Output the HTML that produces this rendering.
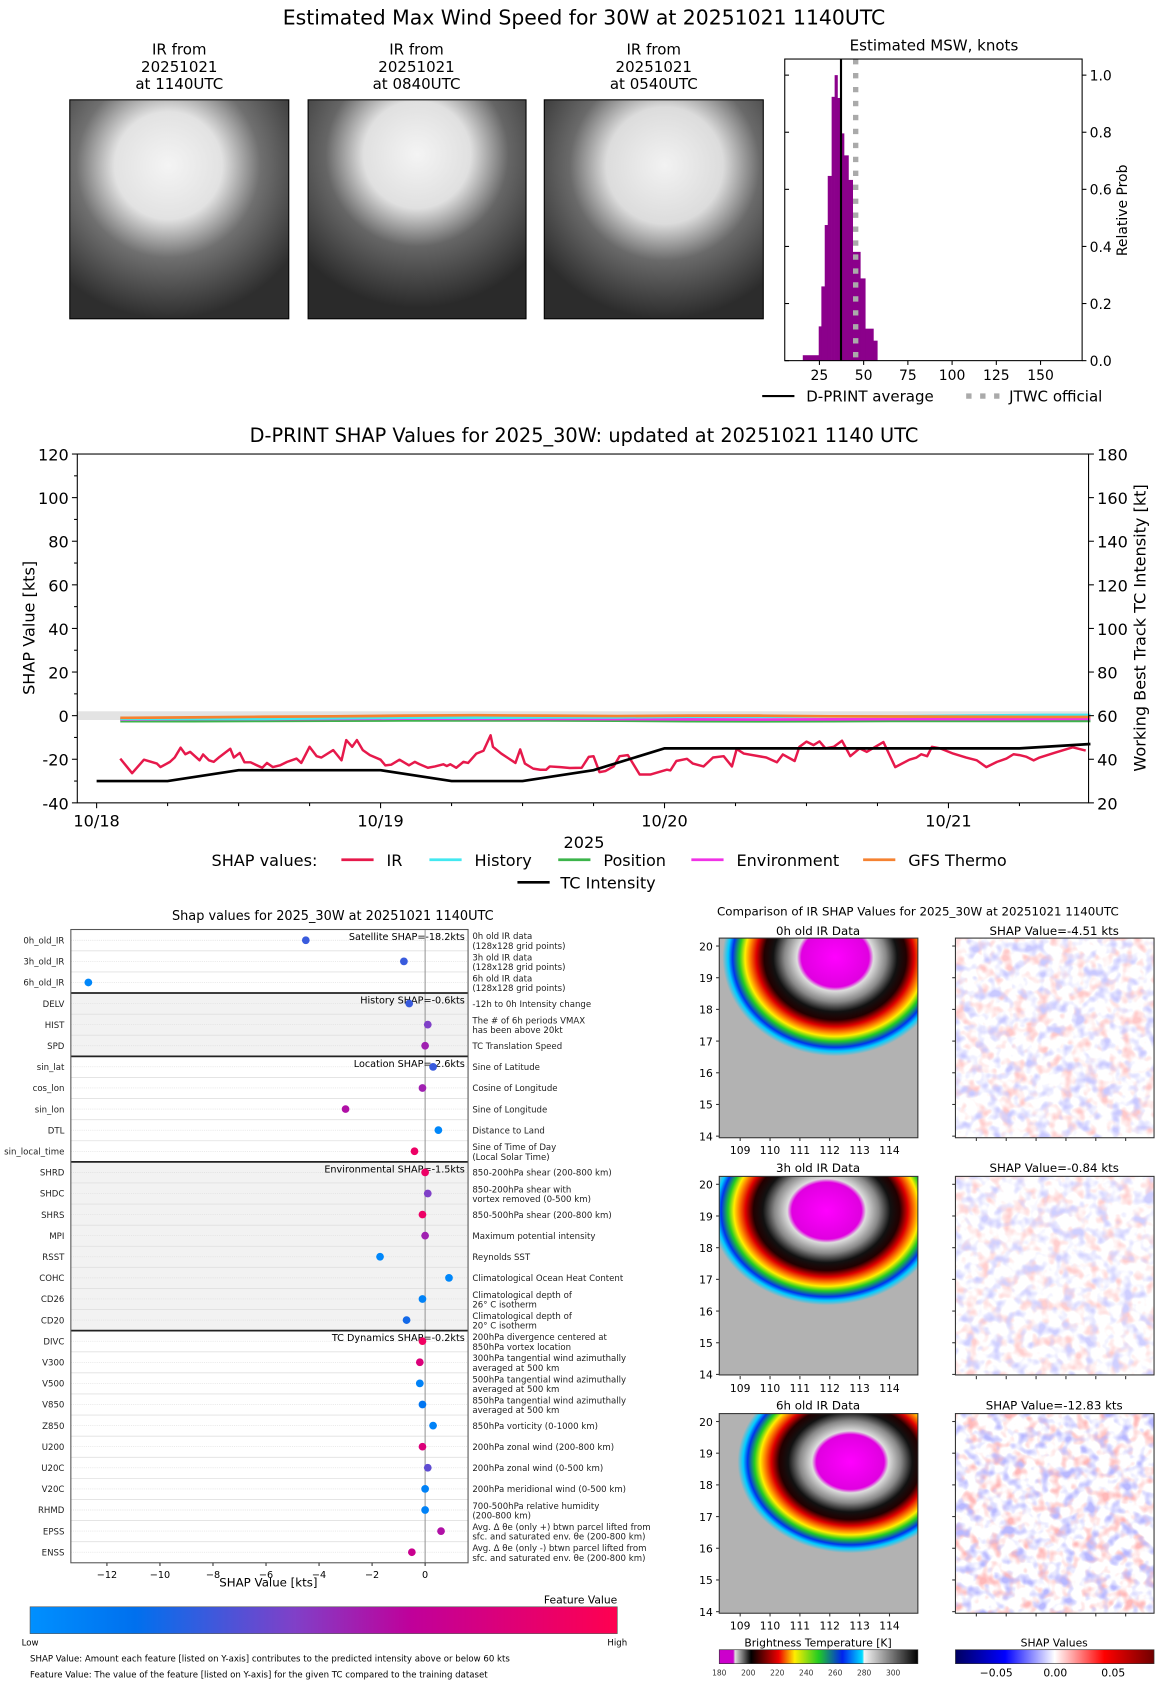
<!DOCTYPE html>
<html><head><meta charset="utf-8">
<style>
html,body{margin:0;padding:0;background:#fff;overflow:hidden;width:1168px;height:1683px}
#wrap{width:1088px;height:1568px;transform:scale(1.07353,1.07334);transform-origin:0 0;position:absolute;left:0;top:0}
svg text{font-family:"DejaVu Sans","Liberation Sans",sans-serif}
</style></head><body>
<div id="wrap">
<svg id="svg" width="1088" height="1568" viewBox="0 0 1088 1568" xmlns="http://www.w3.org/2000/svg">
<defs>
<radialGradient id="ir0" cx="0.45" cy="0.3" r="0.7"><stop offset="0" stop-color="#f4f4f4"/><stop offset="0.35" stop-color="#e2e2e2"/><stop offset="0.6" stop-color="#707070"/><stop offset="1" stop-color="#2e2e2e"/></radialGradient>
<radialGradient id="ir1" cx="0.5" cy="0.25" r="0.7"><stop offset="0" stop-color="#f4f4f4"/><stop offset="0.35" stop-color="#e0e0e0"/><stop offset="0.6" stop-color="#666"/><stop offset="1" stop-color="#2a2a2a"/></radialGradient>
<radialGradient id="ir2" cx="0.55" cy="0.3" r="0.7"><stop offset="0" stop-color="#f2f2f2"/><stop offset="0.38" stop-color="#dcdcdc"/><stop offset="0.62" stop-color="#6a6a6a"/><stop offset="1" stop-color="#2c2c2c"/></radialGradient>
<radialGradient id="storm"><stop offset="0" stop-color="#ff00ff"/><stop offset="0.3" stop-color="#e000e0"/><stop offset="0.34" stop-color="#dddddd"/><stop offset="0.45" stop-color="#888"/><stop offset="0.55" stop-color="#111"/><stop offset="0.63" stop-color="#220000"/><stop offset="0.7" stop-color="#dd0000"/><stop offset="0.76" stop-color="#ff8800"/><stop offset="0.8" stop-color="#ffee00"/><stop offset="0.85" stop-color="#22cc22"/><stop offset="0.91" stop-color="#0033ee"/><stop offset="0.95" stop-color="#00ccff"/><stop offset="1" stop-color="#b2b2b2"/></radialGradient>
<linearGradient id="fv" x1="0" x2="1"><stop offset="0" stop-color="#0090ff"/><stop offset="0.18" stop-color="#0070ee"/><stop offset="0.45" stop-color="#8040c8"/><stop offset="0.65" stop-color="#c0009a"/><stop offset="1" stop-color="#ff0050"/></linearGradient>
<linearGradient id="btc" x1="0" x2="1"><stop offset="0" stop-color="#cc00cc"/><stop offset="0.07" stop-color="#cc00cc"/><stop offset="0.08" stop-color="#ddd"/><stop offset="0.16" stop-color="#000"/><stop offset="0.3" stop-color="#ee0000"/><stop offset="0.38" stop-color="#ffee00"/><stop offset="0.5" stop-color="#22cc22"/><stop offset="0.62" stop-color="#0022ee"/><stop offset="0.72" stop-color="#00ddff"/><stop offset="0.73" stop-color="#f4f4f4"/><stop offset="1" stop-color="#000"/></linearGradient>
<linearGradient id="shc" x1="0" x2="1"><stop offset="0" stop-color="#000060"/><stop offset="0.25" stop-color="#0000ff"/><stop offset="0.5" stop-color="#ffffff"/><stop offset="0.75" stop-color="#ff0000"/><stop offset="1" stop-color="#700000"/></linearGradient>
<filter id="nred" x="0" y="0" width="1" height="1"><feTurbulence type="fractalNoise" baseFrequency="0.09" numOctaves="2" seed="3"/><feColorMatrix type="matrix" values="0 0 0 0 1  0 0 0 0 0.25  0 0 0 0 0.25  3.5 0 0 0 -1.7"/></filter>
<filter id="nblue" x="0" y="0" width="1" height="1"><feTurbulence type="fractalNoise" baseFrequency="0.09" numOctaves="2" seed="11"/><feColorMatrix type="matrix" values="0 0 0 0 0.25  0 0 0 0 0.25  0 0 0 0 1  3.5 0 0 0 -1.7"/></filter>
<clipPath id="c0"><rect x="670" y="874" width="185" height="186"/></clipPath>
<clipPath id="c1"><rect x="670" y="1096" width="185" height="185"/></clipPath>
<clipPath id="c2"><rect x="670" y="1317" width="185" height="186"/></clipPath>
</defs>

<text x="544" y="23" font-size="19" text-anchor="middle">Estimated Max Wind Speed for 30W at 20251021 1140UTC</text>

<g>
<text x="167" y="51" font-size="14" text-anchor="middle">IR from</text><text x="167" y="67" font-size="14" text-anchor="middle">20251021</text><text x="167" y="83" font-size="14" text-anchor="middle">at 1140UTC</text>
<rect x="65" y="93" width="204" height="204" fill="url(#ir0)" stroke="#000"/></g>
<g>
<text x="388" y="51" font-size="14" text-anchor="middle">IR from</text><text x="388" y="67" font-size="14" text-anchor="middle">20251021</text><text x="388" y="83" font-size="14" text-anchor="middle">at 0840UTC</text>
<rect x="287" y="93" width="203" height="204" fill="url(#ir1)" stroke="#000"/></g>
<g>
<text x="609" y="51" font-size="14" text-anchor="middle">IR from</text><text x="609" y="67" font-size="14" text-anchor="middle">20251021</text><text x="609" y="83" font-size="14" text-anchor="middle">at 0540UTC</text>
<rect x="507" y="93" width="204" height="204" fill="url(#ir2)" stroke="#000"/></g>

<g id="hist"></g>
<g id="ts"></g>
<g id="dots"></g>

<g>
<text x="855" y="853" font-size="11" text-anchor="middle">Comparison of IR SHAP Values for 2025_30W at 20251021 1140UTC</text>
<text x="762" y="871" font-size="11" text-anchor="middle">0h old IR Data</text>
<text x="982" y="871" font-size="11" text-anchor="middle">SHAP Value=-4.51 kts</text>
<text x="762" y="1092" font-size="11" text-anchor="middle">3h old IR Data</text>
<text x="982" y="1092" font-size="11" text-anchor="middle">SHAP Value=-0.84 kts</text>
<text x="762" y="1313" font-size="11" text-anchor="middle">6h old IR Data</text>
<text x="982" y="1313" font-size="11" text-anchor="middle">SHAP Value=-12.83 kts</text>
<g clip-path="url(#c0)"><rect x="670" y="874" width="185" height="186" fill="#b2b2b2"/><ellipse cx="778" cy="892" rx="105" ry="92" fill="url(#storm)"/></g>
<g clip-path="url(#c1)"><rect x="670" y="1096" width="185" height="185" fill="#b2b2b2"/><ellipse cx="770" cy="1128" rx="108" ry="88" fill="url(#storm)"/></g>
<g clip-path="url(#c2)"><rect x="670" y="1317" width="185" height="186" fill="#b2b2b2"/><ellipse cx="792" cy="1362" rx="105" ry="85" fill="url(#storm)"/></g>
<rect x="670" y="874" width="185" height="186" fill="none" stroke="#333"/>
<rect x="670" y="1096" width="185" height="185" fill="none" stroke="#333"/>
<rect x="670" y="1317" width="185" height="186" fill="none" stroke="#333"/>
<g><rect x="890" y="874" width="185" height="186" fill="#fff"/><g opacity="0.45"><rect x="890" y="874" width="185" height="186" filter="url(#nred)"/><rect x="890" y="874" width="185" height="186" filter="url(#nblue)"/></g><rect x="890" y="874" width="185" height="186" fill="none" stroke="#333"/></g>
<g><rect x="890" y="1096" width="185" height="185" fill="#fff"/><g opacity="0.4"><rect x="890" y="1096" width="185" height="185" filter="url(#nred)"/><rect x="890" y="1096" width="185" height="185" filter="url(#nblue)"/></g><rect x="890" y="1096" width="185" height="185" fill="none" stroke="#333"/></g>
<g><rect x="890" y="1317" width="185" height="186" fill="#fff"/><g opacity="0.6"><rect x="890" y="1317" width="185" height="186" filter="url(#nred)"/><rect x="890" y="1317" width="185" height="186" filter="url(#nblue)"/></g><rect x="890" y="1317" width="185" height="186" fill="none" stroke="#333"/></g>
<g id="irticks"></g>
<g>
<text x="762" y="1534" font-size="10" text-anchor="middle">Brightness Temperature [K]</text>
<rect x="670" y="1537" width="185" height="13" fill="url(#btc)" stroke="#333" stroke-width="0.6"/>
<text x="670" y="1561" font-size="7" text-anchor="middle" fill="#333">180</text><text x="697" y="1561" font-size="7" text-anchor="middle" fill="#333">200</text><text x="724" y="1561" font-size="7" text-anchor="middle" fill="#333">220</text><text x="751" y="1561" font-size="7" text-anchor="middle" fill="#333">240</text><text x="778" y="1561" font-size="7" text-anchor="middle" fill="#333">260</text><text x="805" y="1561" font-size="7" text-anchor="middle" fill="#333">280</text><text x="832" y="1561" font-size="7" text-anchor="middle" fill="#333">300</text>
</g>
<g>
<text x="982" y="1534" font-size="10" text-anchor="middle">SHAP Values</text>
<rect x="890" y="1537" width="185" height="13" fill="url(#shc)" stroke="#333" stroke-width="0.6"/>
<text x="928" y="1562" font-size="10" text-anchor="middle">−0.05</text><text x="983" y="1562" font-size="10" text-anchor="middle">0.00</text><text x="1037" y="1562" font-size="10" text-anchor="middle">0.05</text>
</g>
</g>
</svg>
</div>
<script>
const NS="http://www.w3.org/2000/svg";
function mk(tag,attrs,parent,txt){const e=document.createElementNS(NS,tag);for(const k in attrs)e.setAttribute(k,attrs[k]);if(txt!==undefined)e.textContent=txt;parent.appendChild(e);return e;}

/* ===== Histogram data ===== */
const histEdges=[15.6,24.6,26.1,28.0,29.7,31.9,33.6,35.2,37.2,38.9,41.4,43.8,48.1,50.9,55.5,57.7];
const histProb=[0.019,0.12,0.26,0.475,0.647,0.924,1.0,0.92,0.796,0.719,0.633,0.381,0.288,0.112,0.07];
const dprintAvg=37.2;
const jtwcOfficial=45.5;
const histXTicks=[25,50,75,100,125,150];
const histYTicks=[0,0.2,0.4,0.6,0.8,1.0];
(function(){
 const g=document.getElementById('hist');
 const L=731,R=1008,T=55,B=336;
 const xs=v=>L+(v-5.4)/(173.5-5.4)*(R-L);
 const ys=p=>B-p*266;
 mk('text',{x:870,y:47,'font-size':14,'text-anchor':'middle'},g,'Estimated MSW, knots');
 for(let i=0;i<histProb.length;i++){
  const b=mk('rect',{x:xs(histEdges[i]),y:ys(histProb[i]),width:xs(histEdges[i+1])-xs(histEdges[i])+0.3,height:B-ys(histProb[i]),fill:'#8b008b'},g);
  
  
 }
 const j=mk('line',{x1:xs(jtwcOfficial),x2:xs(jtwcOfficial),y1:T,y2:B,stroke:'#aaa','stroke-width':5,'stroke-dasharray':'5,8'},g);
 
 
 const d=mk('line',{x1:xs(dprintAvg),x2:xs(dprintAvg),y1:T,y2:B,stroke:'#000','stroke-width':2},g);
 
 
 mk('rect',{x:L,y:T,width:R-L,height:B-T,fill:'none',stroke:'#000'},g);
 histXTicks.forEach(t=>{mk('line',{x1:xs(t),x2:xs(t),y1:B,y2:B+4,stroke:'#000'},g);mk('text',{x:xs(t),y:B+18,'font-size':13,'text-anchor':'middle'},g,t);});
 histYTicks.forEach(t=>{mk('line',{x1:R,x2:R+4,y1:ys(t),y2:ys(t),stroke:'#000'},g);mk('line',{x1:L,x2:L+4,y1:ys(t),y2:ys(t),stroke:'#000'},g);mk('text',{x:R+7,y:ys(t)+5,'font-size':13},g,t.toFixed(1));});
 mk('text',{x:0,y:0,'font-size':13,'text-anchor':'middle',transform:'translate(1050,196) rotate(-90)'},g,'Relative Prob');
 mk('line',{x1:710,x2:740,y1:369,y2:369,stroke:'#000','stroke-width':2},g);
 mk('text',{x:751,y:374,'font-size':14},g,'D-PRINT average');
 mk('line',{x1:900,x2:932,y1:369,y2:369,stroke:'#aaa','stroke-width':5,'stroke-dasharray':'5,8'},g);
 mk('text',{x:940,y:374,'font-size':14},g,'JTWC official');
})();

/* ===== SHAP time series data (hours since 10/18 00UTC) ===== */
const irHours=[2,3,4,5.1,5.4,6.2,6.6,7.1,7.5,7.9,8.7,9,9.5,9.9,10.4,11.3,11.6,12.1,12.5,13,14,14.4,14.9,15.5,16.1,16.9,17.3,18,18.6,19,20,20.7,21.1,21.6,22,22.5,23.1,24,24.4,24.9,25.6,26.4,26.9,27.3,28,28.6,29.3,29.6,29.9,30.4,31,31.4,32.1,32.7,33.3,33.5,34.2,35.4,35.8,36.2,36.9,37.5,38,38.3,39.2,40,41,41.6,42,42.5,43,43.7,44.2,44.9,45.9,46.8,48.2,48.5,49,49.9,50.4,51.3,52.1,53,53.7,54.1,54.7,56.6,57.5,58,59,59.4,60,60.6,61.1,61.6,62.3,63,63.7,64.5,65.1,66.5,67.5,68.7,69.3,69.7,70.2,70.6,71.3,72.4,73.5,74.4,75.2,76.1,76.9,77.5,78,78.6,79.2,79.7,81,82.5,83.6];
const irShap=[-19.7,-26.4,-20.2,-22,-23.6,-21.2,-19.2,-14.7,-17.7,-16.6,-20.5,-17.8,-20.5,-21.2,-18.9,-15.2,-19.2,-17.1,-21.4,-21.4,-23.9,-21.7,-23.6,-22.8,-21.2,-19.7,-21.7,-14.3,-18.6,-19.2,-15.8,-20.5,-11.2,-14.3,-11.2,-15.8,-18.1,-20.2,-22.8,-22.5,-20.2,-22.8,-21.2,-22.3,-23.9,-23.3,-22.3,-23.1,-22.3,-23.9,-21.2,-21.7,-17.4,-16.1,-9,-14.3,-17.4,-21.7,-15.5,-22,-24.3,-24.8,-24.8,-23.3,-23.6,-24,-23.9,-18.9,-18.6,-25.9,-25.4,-23.3,-18.6,-18.1,-27,-27,-24.8,-25.1,-20.8,-19.8,-22,-23.3,-19.2,-18.6,-23.3,-15.3,-17.4,-19.2,-21.4,-17.8,-20.8,-14.3,-11.9,-13.5,-11.8,-15,-14.3,-11.5,-18.6,-15,-16.6,-12.1,-23.6,-20.2,-19.2,-17.7,-18.6,-14.3,-15,-17.4,-19.2,-20.5,-23.6,-21.2,-19.7,-17.7,-18.1,-18.9,-20.5,-19.2,-17,-14.5,-16];
const grpHours=[2,8,14,20,26,32,38,44,50,56,62,68,74,80,84];
const historyShap=[-1.5,-1.5,-1.5,-1.2,-1,-1,-0.8,-0.8,-0.5,-0.5,-0.3,-0.3,0,0.3,0.3];
const positionShap=[-2.5,-2.5,-2.4,-2.3,-2.2,-2.2,-2.2,-2.3,-2.5,-2.6,-2.5,-2.4,-2.4,-2.4,-2.4];
const environmentShap=[-1.8,-1.6,-1.6,-1.5,-1.4,-1.5,-1.5,-1.6,-1.7,-1.8,-1.7,-1.6,-1.6,-1.5,-1.5];
const gfsShap=[-1,-0.8,-0.5,-0.3,0,0.2,0,-0.2,0,0,-0.3,-0.4,-0.5,-0.6,-0.6];
const tcHours=[0,6,12,18,24,30,36,42,48,54,60,66,72,78,84];
const tcIntensity=[30,30,35,35,35,30,30,35,45,45,45,45,45,45,47];
const tsLeftTicks=[-40,-20,0,20,40,60,80,100,120];
const tsRightTicks=[20,40,60,80,100,120,140,160,180];
const tsDateTicks=['10/18','10/19','10/20','10/21'];
(function(){
 const g=document.getElementById('ts');
 const L=72,R=1014,T=423,B=748;
 const xs=h=>90+h/24*264.5;
 const yl=v=>B-(v+40)/160*(B-T);
 const yr=k=>B-(k-20)/160*(B-T);
 mk('text',{x:544,y:412,'font-size':18,'text-anchor':'middle'},g,'D-PRINT SHAP Values for 2025_30W: updated at 20251021 1140 UTC');
 mk('rect',{x:L,y:yl(2),width:R-L,height:yl(-2)-yl(2),fill:'#e3e3e3'},g);
 const series=[[grpHours,positionShap,'#3cb44b','position-line'],[grpHours,environmentShap,'#f032e6','environment-line'],[grpHours,historyShap,'#42e8f0','history-line'],[grpHours,gfsShap,'#f58231','gfs-thermo-line']];
 series.forEach(s=>{
  const p=mk('polyline',{points:s[0].map((h,i)=>xs(h)+','+yl(s[1][i])).join(' '),fill:'none',stroke:s[2],'stroke-width':2.5},g);
  
  
 });
 const ir=mk('polyline',{points:irHours.map((h,i)=>xs(h)+','+yl(irShap[i])).join(' '),fill:'none',stroke:'#e6194b','stroke-width':2.3,'stroke-linejoin':'round'},g);
 
 
 const tc=mk('polyline',{points:tcHours.map((h,i)=>xs(h)+','+yr(tcIntensity[i])).join(' '),fill:'none',stroke:'#000','stroke-width':2.5},g);
 
 
 mk('rect',{x:L,y:T,width:R-L,height:B-T,fill:'none',stroke:'#000'},g);
 tsLeftTicks.forEach(t=>{mk('line',{x1:L-5,x2:L,y1:yl(t),y2:yl(t),stroke:'#000'},g);mk('text',{x:L-8,y:yl(t)+6,'font-size':15,'text-anchor':'end'},g,t);});
 for(let t=-30;t<=110;t+=20){mk('line',{x1:L-3,x2:L,y1:yl(t),y2:yl(t),stroke:'#000'},g);}
 tsRightTicks.forEach(t=>{mk('line',{x1:R,x2:R+5,y1:yr(t),y2:yr(t),stroke:'#000'},g);mk('text',{x:R+8,y:yr(t)+6,'font-size':15},g,t);});
 tsDateTicks.forEach((d,i)=>{mk('line',{x1:xs(i*24),x2:xs(i*24),y1:B,y2:B+5,stroke:'#000'},g);mk('text',{x:xs(i*24),y:B+22,'font-size':15,'text-anchor':'middle'},g,d);});
 for(let h=6;h<84;h+=6){if(h%24)mk('line',{x1:xs(h),x2:xs(h),y1:B,y2:B+3,stroke:'#000'},g);}
 mk('text',{x:544,y:790,'font-size':15,'text-anchor':'middle'},g,'2025');
 mk('text',{x:0,y:0,'font-size':15,'text-anchor':'middle',transform:'translate(32,585) rotate(-90)'},g,'SHAP Value [kts]');
 mk('text',{x:0,y:0,'font-size':15,'text-anchor':'middle',transform:'translate(1067,585) rotate(-90)'},g,'Working Best Track TC Intensity [kt]');
 mk('text',{x:197,y:807,'font-size':15},g,'SHAP values:');
 const leg=[[318,'#e6194b','IR'],[400,'#42e8f0','History'],[520,'#3cb44b','Position'],[644,'#f032e6','Environment'],[804,'#f58231','GFS Thermo']];
 leg.forEach(l=>{mk('line',{x1:l[0],x2:l[0]+30,y1:801,y2:801,stroke:l[1],'stroke-width':2.5},g);mk('text',{x:l[0]+42,y:807,'font-size':15},g,l[2]);});
 mk('line',{x1:482,x2:512,y1:822,y2:822,stroke:'#000','stroke-width':2.5},g);
 mk('text',{x:522,y:828,'font-size':15},g,'TC Intensity');
})();

/* ===== Feature SHAP dot chart ===== */
const featNames=['0h_old_IR','3h_old_IR','6h_old_IR','DELV','HIST','SPD','sin_lat','cos_lon','sin_lon','DTL','sin_local_time','SHRD','SHDC','SHRS','MPI','RSST','COHC','CD26','CD20','DIVC','V300','V500','V850','Z850','U200','U20C','V20C','RHMD','EPSS','ENSS'];
const featShap=[-4.5,-0.8,-12.7,-0.6,0.1,0.0,0.3,-0.1,-3.0,0.5,-0.4,0.0,0.1,-0.1,0.0,-1.7,0.9,-0.1,-0.7,-0.1,-0.2,-0.2,-0.1,0.3,-0.1,0.1,0.0,0.0,0.6,-0.5];
const featValue=[0.3,0.3,0.05,0.3,0.45,0.55,0.3,0.55,0.6,0.05,0.9,0.9,0.45,0.9,0.55,0.05,0.05,0.08,0.22,0.92,0.8,0.08,0.15,0.08,0.8,0.38,0.08,0.08,0.6,0.7];
const featDesc=[["0h old IR data","(128x128 grid points)"],["3h old IR data","(128x128 grid points)"],["6h old IR data","(128x128 grid points)"],["-12h to 0h Intensity change"],["The # of 6h periods VMAX","has been above 20kt"],["TC Translation Speed"],["Sine of Latitude"],["Cosine of Longitude"],["Sine of Longitude"],["Distance to Land"],["Sine of Time of Day","(Local Solar Time)"],["850-200hPa shear (200-800 km)"],["850-200hPa shear with","vortex removed (0-500 km)"],["850-500hPa shear (200-800 km)"],["Maximum potential intensity"],["Reynolds SST"],["Climatological Ocean Heat Content"],["Climatological depth of","26° C isotherm"],["Climatological depth of","20° C isotherm"],["200hPa divergence centered at","850hPa vortex location"],["300hPa tangential wind azimuthally","averaged at 500 km"],["500hPa tangential wind azimuthally","averaged at 500 km"],["850hPa tangential wind azimuthally","averaged at 500 km"],["850hPa vorticity (0-1000 km)"],["200hPa zonal wind (200-800 km)"],["200hPa zonal wind (0-500 km)"],["200hPa meridional wind (0-500 km)"],["700-500hPa relative humidity","(200-800 km)"],["Avg. Δ θe (only +) btwn parcel lifted from","sfc. and saturated env. θe (200-800 km)"],["Avg. Δ θe (only -) btwn parcel lifted from","sfc. and saturated env. θe (200-800 km)"]];
const groupNames=['Satellite SHAP=-18.2kts','History SHAP=-0.6kts','Location SHAP=-2.6kts','Environmental SHAP=-1.5kts','TC Dynamics SHAP=-0.2kts'];
const groupStart=[0,3,6,11,19];
const groupEnd=[3,6,11,19,30];
const dotXTicks=[-12,-10,-8,-6,-4,-2,0];
function fvColor(f){const st=[[0,[0,144,255]],[0.18,[0,112,238]],[0.45,[128,64,200]],[0.65,[192,0,154]],[1,[255,0,80]]];for(let i=0;i<st.length-1;i++){if(f<=st[i+1][0]){const t=(f-st[i][0])/(st[i+1][0]-st[i][0]);const c=st[i][1].map((v,k)=>Math.round(v+t*(st[i+1][1][k]-v)));return 'rgb('+c.join(',')+')';}}return 'rgb(255,0,80)';}
(function(){
 const g=document.getElementById('dots');
 const L=66,R=436,T=866,B=1456;
 const xs=v=>396+v*24.7;
 const ry=i=>876+i*19.66;
 mk('text',{x:310,y:857,'font-size':12,'text-anchor':'middle'},g,'Shap values for 2025_30W at 20251021 1140UTC');
 groupStart.forEach((s,gi)=>{
  const y0=gi===0?T:ry(s)-9.8, y1=gi===4?B:ry(groupEnd[gi])-9.8;
  const r=mk('rect',{x:L,y:y0,width:R-L,height:y1-y0,fill:(gi%2)?'#f2f2f2':'#fff'},g);
  
  
 });
 featNames.forEach((n,i)=>{mk('line',{x1:L,x2:R,y1:ry(i),y2:ry(i),stroke:'#ddd','stroke-width':0.6,'stroke-dasharray':'1,1'},g);if(i>0)mk('line',{x1:L,x2:R,y1:ry(i)-9.8,y2:ry(i)-9.8,stroke:'#e0e0e0','stroke-width':0.8},g);});
 mk('line',{x1:xs(0),x2:xs(0),y1:T,y2:B,stroke:'#999','stroke-width':1},g);
 groupStart.forEach((s,gi)=>{if(gi>0)mk('line',{x1:L,x2:R,y1:ry(s)-9.8,y2:ry(s)-9.8,stroke:'#222','stroke-width':1.6},g);
  mk('text',{x:R-3,y:ry(s)+0,'font-size':9,'text-anchor':'end'},g,groupNames[gi]);});
 featNames.forEach((n,i)=>{
  mk('text',{x:L-6,y:ry(i)+3,'font-size':8,'text-anchor':'end',fill:'#222'},g,n);
  const d=featDesc[i];
  if(d.length===1)mk('text',{x:R+4,y:ry(i)+3,'font-size':8,fill:'#222'},g,d[0]);
  else{mk('text',{x:R+4,y:ry(i)-1,'font-size':8,fill:'#222'},g,d[0]);mk('text',{x:R+4,y:ry(i)+8,'font-size':8,fill:'#222'},g,d[1]);}
  const c=mk('circle',{cx:xs(featShap[i]),cy:ry(i),r:3.6,fill:fvColor(featValue[i])},g);
  
  
 });
 mk('rect',{x:L,y:T,width:R-L,height:B-T,fill:'none',stroke:'#555'},g);
 dotXTicks.forEach(t=>{mk('line',{x1:xs(t),x2:xs(t),y1:B,y2:B+3,stroke:'#333'},g);mk('text',{x:xs(t),y:B+14,'font-size':9,'text-anchor':'middle'},g,t===0?'0':'−'+Math.abs(t));});
 mk('text',{x:250,y:1478,'font-size':11,'text-anchor':'middle'},g,'SHAP Value [kts]');
 mk('text',{x:575,y:1494,'font-size':10,'text-anchor':'end'},g,'Feature Value');
 const cb=mk('rect',{x:28,y:1497,width:547,height:25,fill:'url(#fv)',stroke:'#555','stroke-width':0.6},g);
 
 
 mk('text',{x:28,y:1533,'font-size':8,'text-anchor':'middle'},g,'Low');
 mk('text',{x:575,y:1533,'font-size':8,'text-anchor':'middle'},g,'High');
 mk('text',{x:28,y:1548,'font-size':8},g,'SHAP Value: Amount each feature [listed on Y-axis] contributes to the predicted intensity above or below 60 kts');
 mk('text',{x:28,y:1563,'font-size':8},g,'Feature Value: The value of the feature [listed on Y-axis] for the given TC compared to the training dataset');
})();

/* ===== IR panel ticks ===== */
const latTicks=[14,15,16,17,18,19,20];
const lonTicks=[109,110,111,112,113,114];
(function(){
 const g=document.getElementById('irticks');
 const tops=[874,1096,1317];
 tops.forEach(t=>{
  const ys=v=>t+186-(v-13.95)/6.3*186;
  latTicks.forEach(v=>{mk('line',{x1:667,x2:670,y1:ys(v),y2:ys(v),stroke:'#333'},g);mk('text',{x:664,y:ys(v)+4,'font-size':10,'text-anchor':'end'},g,v);mk('line',{x1:887,x2:890,y1:ys(v),y2:ys(v),stroke:'#333'},g);});
  lonTicks.forEach(v=>{const x=670+(v-108.3)/6.65*185;mk('line',{x1:x,x2:x,y1:t+186,y2:t+189,stroke:'#333'},g);mk('text',{x:x,y:t+201,'font-size':10,'text-anchor':'middle'},g,v);const x2=x+220;mk('line',{x1:x2,x2:x2,y1:t+186,y2:t+189,stroke:'#333'},g);});
 });
})();
</script>
</body></html>
